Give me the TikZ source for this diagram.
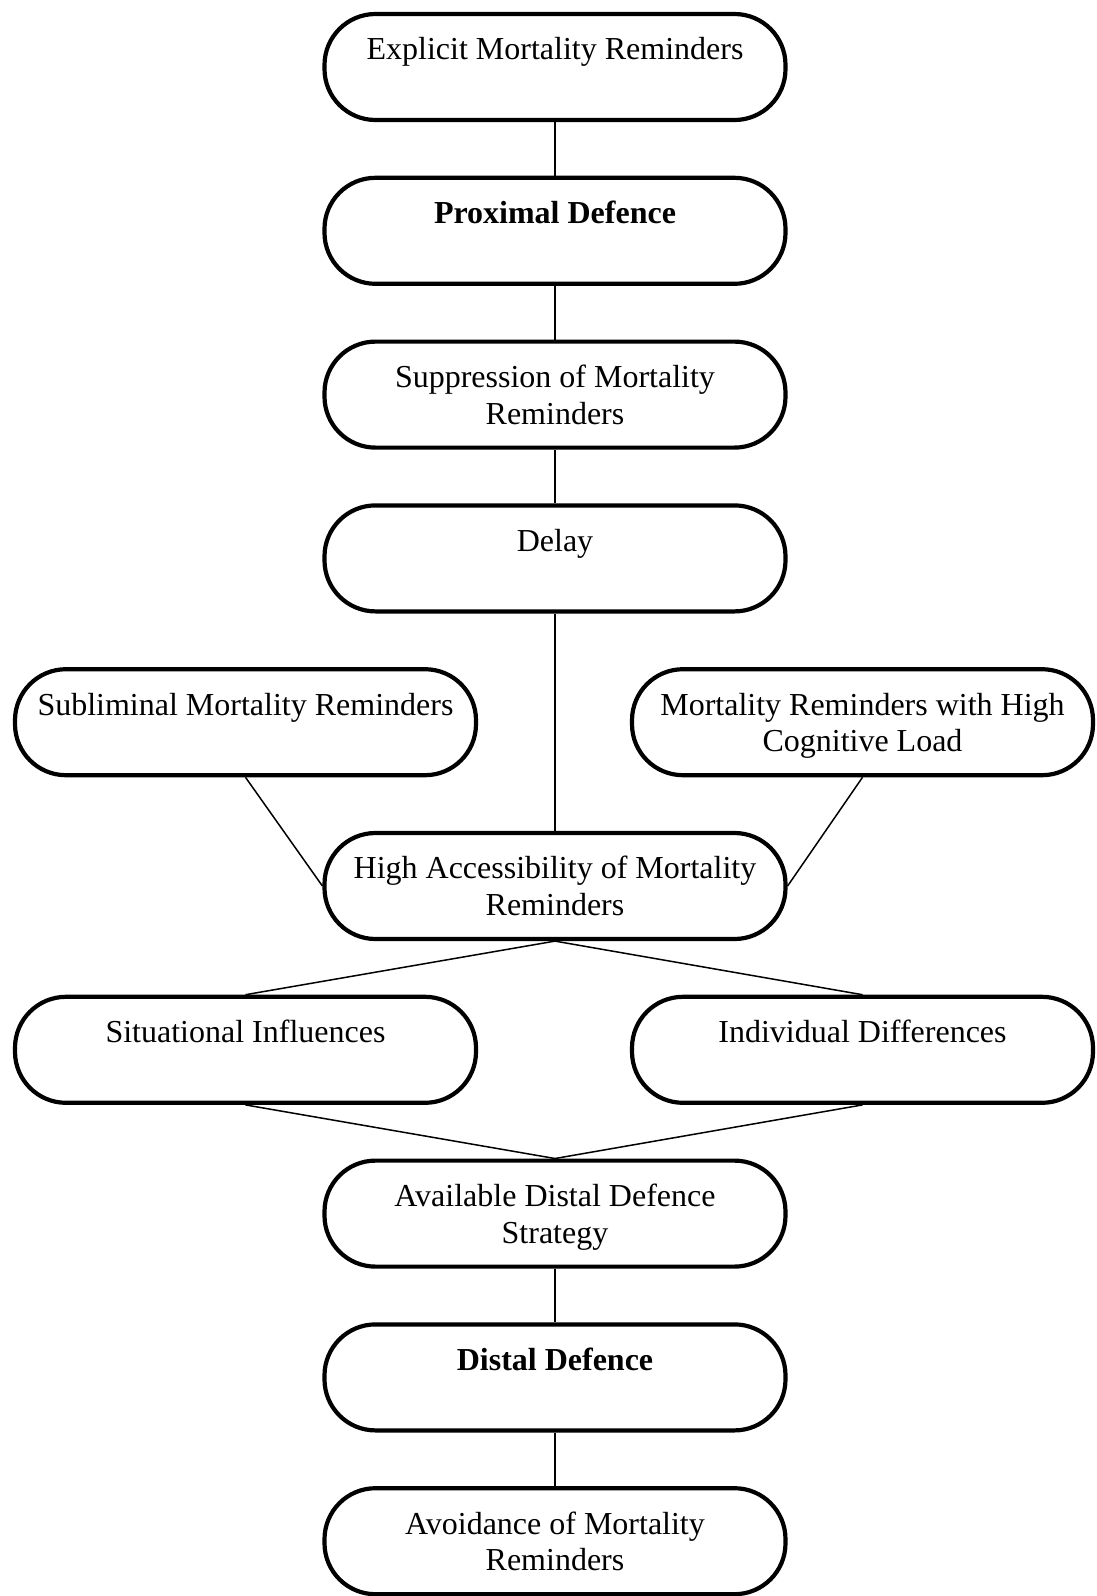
\documentclass[tikz,border=0pt]{standalone}
\usepackage{fontspec}
\setmainfont{Liberation Serif}
\newcommand{\boxtext}[1]{\parbox[t]{450pt}{\centering\fontsize{32}{36.6}\selectfont #1}}
\tikzset{
  pill/.style={draw, line width=4.2pt, rounded corners=51pt, minimum width=461pt, minimum height=106pt, inner sep=0pt, outer sep=2.1pt},
  lbl/.style={anchor=base, inner sep=0pt, outer sep=0pt},
  conn/.style={line width=1.5pt}
}
\begin{document}
\begin{tikzpicture}[x=1pt,y=-1pt]
\useasboundingbox (0,0) rectangle (1096,1596);
% boxes
\node[pill] (b1) at (555,67) {};
\node[pill] (b2) at (555,230.8) {};
\node[pill] (b3) at (555,394.6) {};
\node[pill] (b4) at (555,558.4) {};
\node[pill] (b5) at (245.5,722.2) {};
\node[pill] (b6) at (862.5,722.2) {};
\node[pill] (b7) at (555,886) {};
\node[pill] (b8) at (245.5,1049.8) {};
\node[pill] (b9) at (862.5,1049.8) {};
\node[pill] (b10) at (555,1213.6) {};
\node[pill] (b11) at (555,1377.4) {};
\node[pill] (b12) at (555,1541.2) {};
% labels
\node[lbl] (t1) at ([yshift=-48pt]b1.north) {\boxtext{Explicit Mortality Reminders}};
\node[lbl] (t2) at ([yshift=-48pt]b2.north) {\boxtext{\bfseries Proximal Defence}};
\node[lbl] (t3) at ([yshift=-48pt]b3.north) {\boxtext{Suppression of Mortality\\Reminders}};
\node[lbl] (t4) at ([yshift=-48pt]b4.north) {\boxtext{Delay}};
\node[lbl] (t5) at ([yshift=-48pt]b5.north) {\boxtext{Subliminal Mortality Reminders}};
\node[lbl] (t6) at ([yshift=-48pt]b6.north) {\boxtext{Mortality Reminders with High\\Cognitive Load}};
\node[lbl] (t7) at ([yshift=-48pt]b7.north) {\boxtext{High Accessibility of Mortality\\Reminders}};
\node[lbl] (t8) at ([yshift=-48pt]b8.north) {\boxtext{Situational Influences}};
\node[lbl] (t9) at ([yshift=-48pt]b9.north) {\boxtext{Individual Differences}};
\node[lbl] (t10) at ([yshift=-48pt]b10.north) {\boxtext{Available Distal Defence\\Strategy}};
\node[lbl] (t11) at ([yshift=-48pt]b11.north) {\boxtext{\bfseries Distal Defence}};
\node[lbl] (t12) at ([yshift=-48pt]b12.north) {\boxtext{Avoidance of Mortality\\Reminders}};
% connectors
\draw[conn] (b1.south) -- (b2.north);
\draw[conn] (b2.south) -- (b3.north);
\draw[conn] (b3.south) -- (b4.north);
\draw[conn] (b4.south) -- (b7.north);
\draw[conn] (b5.south) -- (b7.west);
\draw[conn] (b6.south) -- (b7.east);
\draw[conn] (b7.south) -- (b8.north);
\draw[conn] (b7.south) -- (b9.north);
\draw[conn] (b8.south) -- (b10.north);
\draw[conn] (b9.south) -- (b10.north);
\draw[conn] (b10.south) -- (b11.north);
\draw[conn] (b11.south) -- (b12.north);
\end{tikzpicture}
\end{document}
